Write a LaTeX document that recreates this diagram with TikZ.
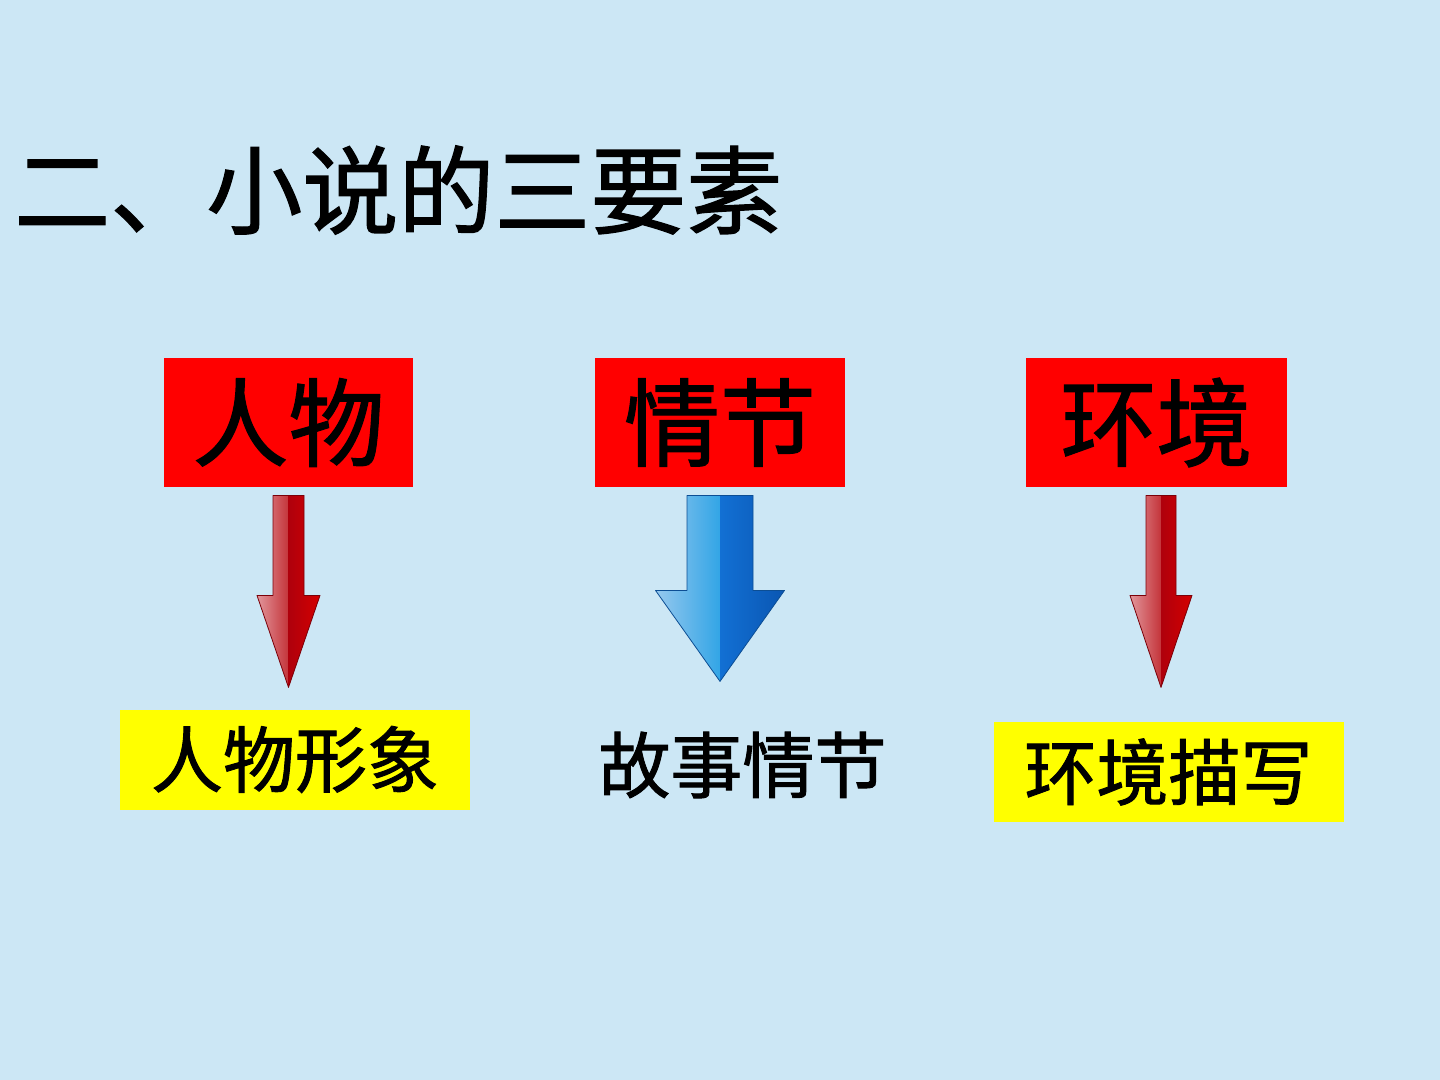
\documentclass[tikz,border=0pt]{standalone}
\usepackage{fontspec}
\setmainfont{Noto Sans CJK SC}[FakeBold=1.3]
\usetikzlibrary{positioning, calc}
\definecolor{slidebg}{RGB}{204,231,245}
\definecolor{boxred}{RGB}{255,0,0}
\definecolor{boxyellow}{RGB}{255,255,0}
\definecolor{redL1}{RGB}{226,150,155}
\definecolor{redL2}{RGB}{196,52,58}
\definecolor{redR1}{RGB}{175,0,12}
\definecolor{redR2}{RGB}{212,0,0}
\definecolor{blueL1}{RGB}{150,200,238}
\definecolor{blueL2}{RGB}{50,165,230}
\definecolor{blueR1}{RGB}{18,112,212}
\definecolor{blueR2}{RGB}{10,86,178}

\tikzset{
  keybox/.style={fill=boxred, inner sep=0pt, minimum height=64.5pt,
    font=\fontsize{48}{56}\selectfont},
  detailbox/.style={fill=boxyellow, inner sep=0pt, minimum width=175pt,
    minimum height=50pt, font=\fontsize{36}{42}\selectfont},
  pics/ridgearrow/.style n args={5}{code={
      \shade[left color=#5L1, right color=#5L2]
        (-#1,0) -- (0,0) -- (0,#4) -- (-#2,#3) -- (-#1,#3) -- cycle;
      \shade[left color=#5R1, right color=#5R2]
        (0,0) -- (#1,0) -- (#1,#3) -- (#2,#3) -- (0,#4) -- cycle;
      \draw[#5R1!70!black, line width=0.4pt, line join=round]
        (-#1,0) -- (#1,0) -- (#1,#3) -- (#2,#3) -- (0,#4) -- (-#2,#3) -- (-#1,#3) -- cycle;
    }}
}

\begin{document}
\begin{tikzpicture}[x=0.5pt, y=-0.5pt]
  \fill[slidebg] (0,0) rectangle (1440,1080);
  \useasboundingbox (0,0) rectangle (1440,1080);

  % title
  \node[anchor=west, inner sep=0pt, font=\fontsize{48}{56}\selectfont]
    (title) at (14,190) {二、小说的三要素};

  % the three elements
  \node[keybox, minimum width=124.5pt] (rw) at (288.5,422.5) {人物};
  \node[keybox, minimum width=125pt] (qj) at (720,422.5) {情节};
  \node[keybox, minimum width=130.5pt] (hj) at (1156.5,422.5) {环境};

  % what each one becomes
  \node[detailbox] (rwxx) at (295,759.5) {人物形象};
  \node[inner sep=0pt, font=\fontsize{36}{42}\selectfont] (gsqj) at (742.5,765) {故事情节};
  \node[detailbox] (hjms) at (1168.5,772) {环境描写};

  % arrows
  \pic at ($(rw.south)+(0,8)$) {ridgearrow={15.5}{31.5}{100}{192}{red}};
  \pic at ($(qj.south)+(0,8)$) {ridgearrow={33}{64.5}{95}{186}{blue}};
  \pic at ($(hj.south)+(4.5,8)$) {ridgearrow={15}{31}{100}{192}{red}};
\end{tikzpicture}
\end{document}
